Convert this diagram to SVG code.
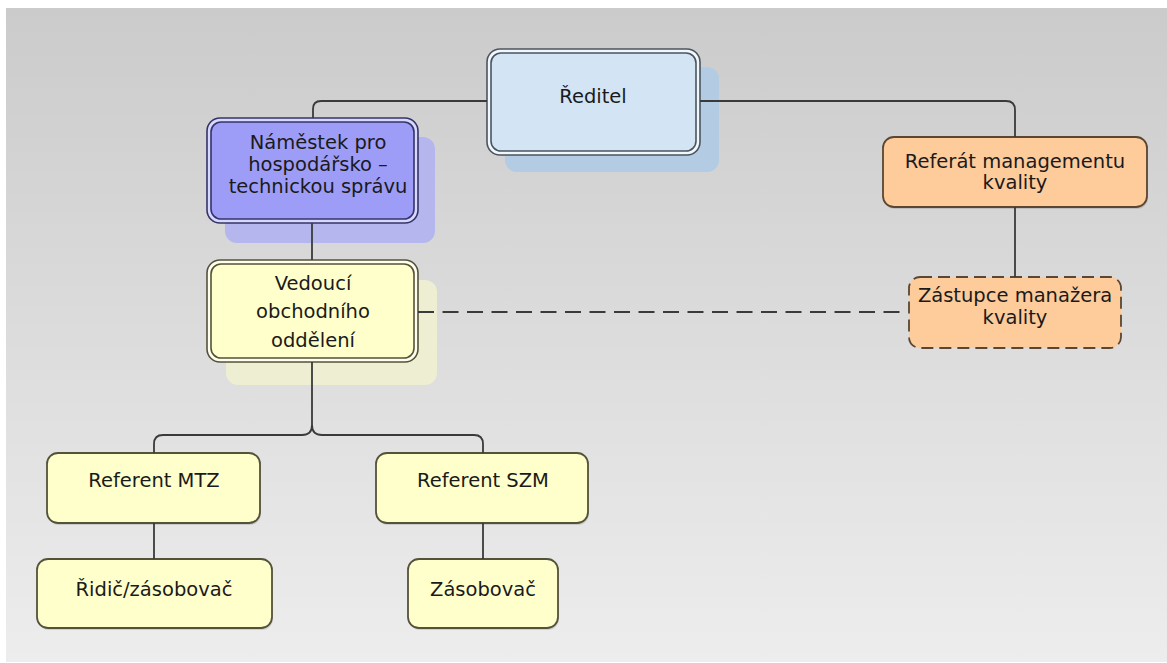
<svg xmlns="http://www.w3.org/2000/svg" width="1167" height="663" viewBox="0 0 1167 663">
<defs>
<linearGradient id="bg" x1="0" y1="0" x2="0" y2="1">
<stop offset="0" stop-color="#cbcbcb"/>
<stop offset="1" stop-color="#ededed"/>
</linearGradient>
</defs>
<style>
text{font-family:"DejaVu Sans","Liberation Sans",sans-serif;font-size:19.5px;fill:#1a1a1a;text-anchor:middle}
.conn{fill:none;stroke:#3a3a3a;stroke-width:1.8}
.dash{stroke-dasharray:16 8.5}
.yel{fill:#ffffcc;stroke:#55523a;stroke-width:1.8}
.org{fill:#fecb9b;stroke:#5a4632;stroke-width:1.8}
.drop{fill:#000;opacity:0.12}
</style>
<rect x="0" y="0" width="1167" height="663" fill="#ffffff"/>
<rect x="6" y="8" width="1161" height="654" fill="url(#bg)"/>

<g id="reditel">
<rect x="505" y="67" width="214" height="105" rx="12" fill="#b3cbe3"/>
<rect x="487" y="49" width="213" height="106" rx="13" fill="#f2f7fb" stroke="#4a5560" stroke-width="1.6"/>
<rect x="491" y="53" width="205" height="98" rx="10" fill="#d3e5f5" stroke="#4a5560" stroke-width="1.6"/>
<text x="593" y="103">Ředitel</text>
</g>

<g id="namestek">
<rect x="225" y="137" width="210" height="106" rx="12" fill="#b6b6ee"/>
<rect x="207" y="118" width="211" height="105" rx="13" fill="#d8d8ff" stroke="#34346a" stroke-width="1.6"/>
<rect x="211" y="122" width="203" height="97" rx="10" fill="#9d9df8" stroke="#34346a" stroke-width="1.6"/>
<text x="318" y="149">Náměstek pro</text>
<text x="318" y="171">hospodářsko –</text>
<text x="318" y="193">technickou správu</text>
</g>

<g id="vedouci">
<rect x="226" y="280" width="211" height="105" rx="12" fill="#eeeed2"/>
<rect x="207" y="260" width="211" height="102" rx="13" fill="#fffff0" stroke="#55523a" stroke-width="1.6"/>
<rect x="211" y="264" width="203" height="94" rx="10" fill="#ffffcc" stroke="#55523a" stroke-width="1.6"/>
<text x="313" y="290">Vedoucí</text>
<text x="313" y="318">obchodního</text>
<text x="313" y="347">oddělení</text>
</g>

<g id="referat">
<rect x="884" y="139" width="264" height="70" rx="11" class="drop"/>
<rect x="883" y="137" width="264" height="70" rx="11" class="org"/>
<text x="1015" y="168">Referát managementu</text>
<text x="1015" y="189">kvality</text>
</g>

<g id="zastupce">
<rect x="909" y="277" width="212" height="71" rx="11" class="org" stroke-dasharray="12 6"/>
<text x="1015" y="302">Zástupce manažera</text>
<text x="1015" y="324">kvality</text>
</g>

<g id="referent-mtz">
<rect x="48" y="455" width="213" height="70" rx="11" class="drop"/>
<rect x="47" y="453" width="213" height="70" rx="11" class="yel"/>
<text x="154" y="487">Referent MTZ</text>
</g>

<g id="referent-szm">
<rect x="377" y="455" width="212" height="70" rx="11" class="drop"/>
<rect x="376" y="453" width="212" height="70" rx="11" class="yel"/>
<text x="483" y="487">Referent SZM</text>
</g>

<g id="ridic">
<rect x="38" y="561" width="235" height="69" rx="11" class="drop"/>
<rect x="37" y="559" width="235" height="69" rx="11" class="yel"/>
<text x="154" y="596">Řidič/zásobovač</text>
</g>

<g id="zasobovac">
<rect x="409" y="561" width="150" height="69" rx="11" class="drop"/>
<rect x="408" y="559" width="150" height="69" rx="11" class="yel"/>
<text x="483" y="596">Zásobovač</text>
</g>

<g id="connectors">
<path class="conn" d="M487,101 H321 Q313,101 313,109 V118"/>
<path class="conn" d="M700,101 H1006 Q1015,101 1015,110 V137"/>
<path class="conn" d="M312,223 V260"/>
<path class="conn" d="M1015,207 V277"/>
<path class="conn dash" d="M418,312 H908"/>
<path class="conn" d="M312,362 V425 Q312,435 302,435 H163 Q154,435 154,444 V453"/>
<path class="conn" d="M312,425 Q312,435 322,435 H474 Q483,435 483,444 V453"/>
<path class="conn" d="M154,523 V559"/>
<path class="conn" d="M483,523 V559"/>
</g>
</svg>
